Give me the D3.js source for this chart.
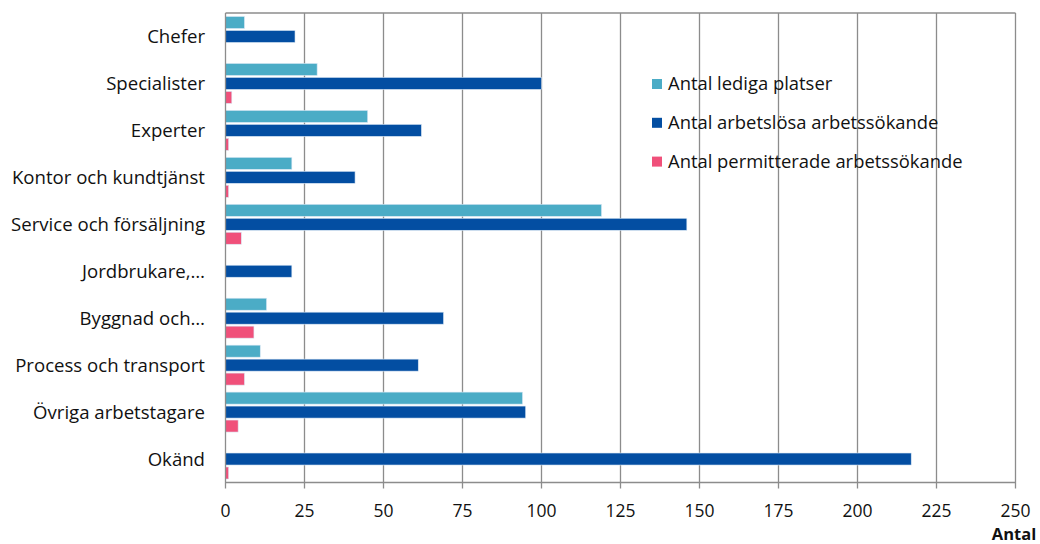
<!DOCTYPE html>
<meta charset="utf-8">
<html>
<head>
<script src="https://cdnjs.cloudflare.com/ajax/libs/d3/7.8.5/d3.min.js"></script>
<style>
  body { margin: 0; background: #fff; }
  svg text { font-family: "Open Sans", sans-serif; fill: #111; }
</style>
</head>
<body>
<script>
// categories, top to bottom
var categories = ["Chefer", "Specialister", "Experter", "Kontor och kundtjänst",
                  "Service och försäljning", "Jordbrukare,…", "Byggnad och…",
                  "Process och transport", "Övriga arbetstagare", "Okänd"];
var seriesNames = ["Antal lediga platser", "Antal arbetslösa arbetssökande", "Antal permitterade arbetssökande"];
var lediga      = [6, 29, 45, 21, 119, 0, 13, 11, 94, 0];
var arbetslosa  = [22, 100, 62, 41, 146, 21, 69, 61, 95, 217];
var permitterade = [0, 2, 1, 1, 5, 0, 9, 6, 4, 1];
var xTicks = [0, 25, 50, 75, 100, 125, 150, 175, 200, 225, 250];
var colors = ["#4bacc6", "#034ea2", "#f0507a"];

var W = 1040, H = 544;
var pLeft = 225.5, pRight = 1015.5, pTop = 13, pBottom = 482.5;

var svg = d3.select("body").append("svg").attr("width", W).attr("height", H);

var x = d3.scaleLinear().domain([0, 250]).range([pLeft, pRight]);
var y = d3.scaleBand().domain(categories).range([pTop, pBottom]);
var inner = d3.scaleBand().domain(d3.range(3))
    .range([3.5, y.bandwidth() - 3.5]).paddingInner(0.14);

// gridlines
svg.append("g").selectAll("line").data(xTicks.slice(1)).enter().append("line")
    .attr("x1", d => x(d)).attr("x2", d => x(d))
    .attr("y1", pTop).attr("y2", pBottom + 6)
    .attr("stroke", "#8c8c8c").attr("stroke-width", 1.3);

// top border
svg.append("line").attr("x1", pLeft).attr("x2", pRight).attr("y1", pTop).attr("y2", pTop)
    .attr("stroke", "#8c8c8c").attr("stroke-width", 1.3);

// bars
var rows = [lediga, arbetslosa, permitterade];
rows.forEach(function(vals, s) {
  var data = vals.map((v, i) => ({ cat: categories[i], v: v })).filter(d => d.v > 0);
  svg.append("g").selectAll("rect").data(data).enter().append("rect")
     .attr("x", x(0))
     .attr("y", d => y(d.cat) + inner(s))
     .attr("width", d => x(d.v) - x(0))
     .attr("height", inner.bandwidth())
     .attr("fill", colors[s])
     .attr("stroke", "#dbe8f5").attr("stroke-width", 0.6);
});

// axes lines
svg.append("line").attr("x1", pLeft).attr("x2", pRight).attr("y1", pBottom).attr("y2", pBottom)
    .attr("stroke", "#8c8c8c").attr("stroke-width", 1.3);
svg.append("line").attr("x1", pLeft).attr("x2", pLeft).attr("y1", pTop).attr("y2", pBottom + 6)
    .attr("stroke", "#8c8c8c").attr("stroke-width", 1.3);

// x tick labels
svg.append("g").selectAll("text").data(xTicks).enter().append("text")
   .attr("x", d => x(d)).attr("y", 517)
   .attr("text-anchor", "middle").attr("font-size", 17.5)
   .text(d => d);

svg.append("text").attr("x", 1014).attr("y", 540).attr("text-anchor", "middle")
   .attr("font-size", 16.5).attr("font-weight", "bold").text("Antal");

// category labels
svg.append("g").selectAll("text").data(categories).enter().append("text")
   .attr("x", 205).attr("y", d => y(d) + y.bandwidth() / 2)
   .attr("dy", "0.35em").attr("text-anchor", "end").attr("font-size", 18.6)
   .text(d => d);

// legend
var lg = svg.append("g");
seriesNames.forEach(function(name, i) {
  var cy = 84 + i * 38.8;
  lg.append("rect").attr("x", 652).attr("y", cy - 5).attr("width", 10).attr("height", 10)
    .attr("fill", colors[i]);
  lg.append("text").attr("x", 668).attr("y", cy).attr("dy", "0.35em")
    .attr("font-size", 18.4).text(name);
});
</script>
</body>
</html>
